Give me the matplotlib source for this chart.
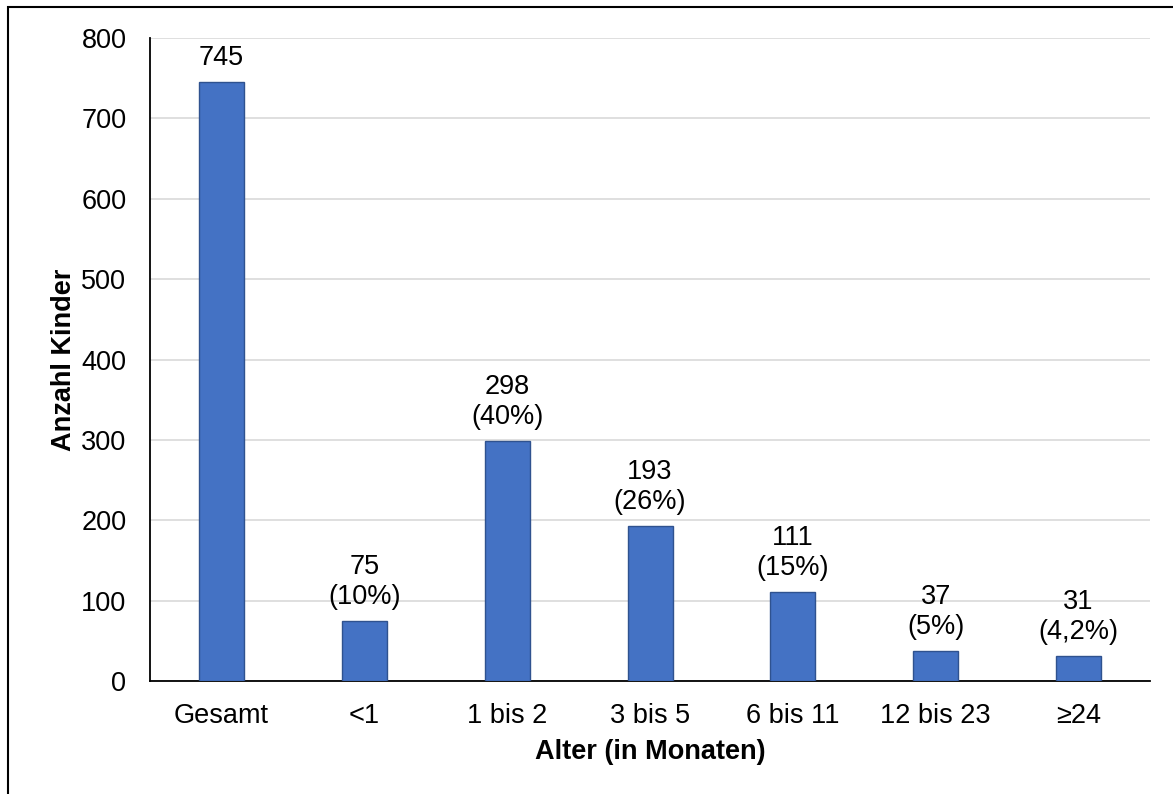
import matplotlib
matplotlib.use("Agg")
import matplotlib.pyplot as plt
from matplotlib.patches import Rectangle

categories = ["Gesamt", "<1", "1 bis 2", "3 bis 5", "6 bis 11", "12 bis 23", "≥24"]
counts = [745, 75, 298, 193, 111, 37, 31]
shares = [None, "10%", "40%", "26%", "15%", "5%", "4,2%"]

plt.rcParams["font.family"] = ["Liberation Sans", "DejaVu Sans"]

W, H = 1173, 794
fig = plt.figure(figsize=(W / 100, H / 100), dpi=100)
ax = fig.add_axes([150 / W, 1 - 681 / H, 1000 / W, (681 - 38) / H])

x = list(range(len(categories)))
ax.bar(x, counts, width=0.315, color="#4472C4", edgecolor="#2F528F", linewidth=1.0, zorder=3)

for xi, c, s in zip(x, counts, shares):
    label = f"{c}" if s is None else f"{c}\n({s})"
    ax.annotate(label, (xi, c), xytext=(0, 8), textcoords="offset points",
                ha="center", va="bottom", fontsize=19.5, linespacing=1.2)

ax.set_xlim(-0.5, 6.5)
ax.set_ylim(0, 800)
ax.set_yticks(range(0, 801, 100))
ax.set_xticks(x)
ax.set_xticklabels(categories)
ax.tick_params(axis="both", length=0, labelsize=19.5)
ax.tick_params(axis="y", pad=17)
ax.tick_params(axis="x", pad=16)
ax.grid(axis="y", color="#D9D9D9", linewidth=1.2, zorder=0)
ax.set_axisbelow(True)
for side in ("top", "right"):
    ax.spines[side].set_visible(False)
for side in ("left", "bottom"):
    ax.spines[side].set_color("black")
    ax.spines[side].set_linewidth(1.3)

ax.set_xlabel("Alter (in Monaten)", fontsize=19.5, fontweight="bold", labelpad=7)
ax.set_ylabel("Anzahl Kinder", fontsize=19.5, fontweight="bold", labelpad=3)

# outer frame around the chart area
fig.patches.append(Rectangle((8 / W, -0.1), 1.2, 1 - 7 / H + 0.1, transform=fig.transFigure,
                             fill=False, edgecolor="black", linewidth=1.5))

fig.savefig("out.png", dpi=100)
